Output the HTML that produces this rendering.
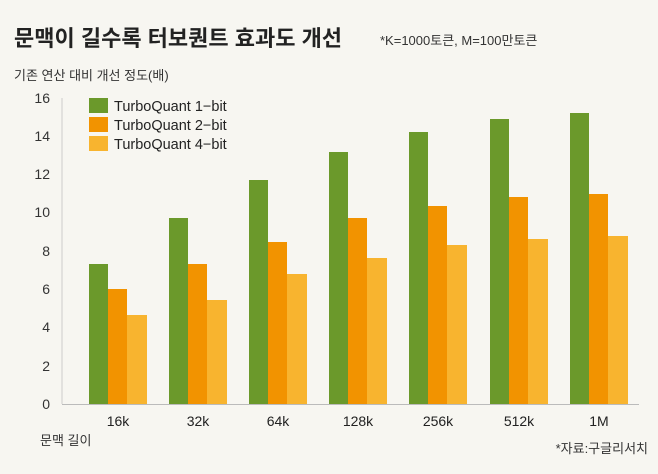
<!DOCTYPE html>
<html><head><meta charset="utf-8"><style>
body{margin:0;background:#f7f6f1;}
svg{display:block;font-family:"Liberation Sans","Noto Sans CJK KR",sans-serif;}
</style></head><body>
<svg width="658" height="474" viewBox="0 0 658 474">
<rect width="658" height="474" fill="#f7f6f1"/>
<text x="14" y="46" font-size="22" font-weight="bold" fill="#222">문맥이 길수록 터보퀀트 효과도 개선</text>
<text x="380" y="45" font-size="13" fill="#333">*K=1000토큰, M=100만토큰</text>
<text x="14" y="80" font-size="13" fill="#333">기존 연산 대비 개선 정도(배)</text>
<g font-size="14" fill="#333" text-anchor="end">
<text x="50" y="409">0</text><text x="50" y="371">2</text><text x="50" y="332">4</text><text x="50" y="294">6</text>
<text x="50" y="256">8</text><text x="50" y="217">10</text><text x="50" y="179">12</text><text x="50" y="141">14</text><text x="50" y="103">16</text>
</g>
<line x1="62" y1="98" x2="62" y2="404" stroke="#ccc"/>
<line x1="62" y1="404.5" x2="639" y2="404.5" stroke="#bbb"/>
<g>
<rect x="89" y="264" width="19" height="140" fill="#6b992b"/><rect x="108" y="289" width="19" height="115" fill="#f29300"/><rect x="127" y="315" width="20" height="89" fill="#f8b42f"/>
<rect x="169" y="218" width="19" height="186" fill="#6b992b"/><rect x="188" y="264" width="19" height="140" fill="#f29300"/><rect x="207" y="300" width="20" height="104" fill="#f8b42f"/>
<rect x="249" y="180" width="19" height="224" fill="#6b992b"/><rect x="268" y="242" width="19" height="162" fill="#f29300"/><rect x="287" y="274" width="20" height="130" fill="#f8b42f"/>
<rect x="329" y="152" width="19" height="252" fill="#6b992b"/><rect x="348" y="218" width="19" height="186" fill="#f29300"/><rect x="367" y="258" width="20" height="146" fill="#f8b42f"/>
<rect x="409" y="132" width="19" height="272" fill="#6b992b"/><rect x="428" y="206" width="19" height="198" fill="#f29300"/><rect x="447" y="245" width="20" height="159" fill="#f8b42f"/>
<rect x="490" y="119" width="19" height="285" fill="#6b992b"/><rect x="509" y="197" width="19" height="207" fill="#f29300"/><rect x="528" y="239" width="20" height="165" fill="#f8b42f"/>
<rect x="570" y="113" width="19" height="291" fill="#6b992b"/><rect x="589" y="194" width="19" height="210" fill="#f29300"/><rect x="608" y="236" width="20" height="168" fill="#f8b42f"/>
</g>
<g font-size="14" fill="#222" text-anchor="middle">
<text x="118" y="426">16k</text><text x="198" y="426">32k</text><text x="278" y="426">64k</text><text x="358" y="426">128k</text>
<text x="438" y="426">256k</text><text x="519" y="426">512k</text><text x="599" y="426">1M</text>
</g>
<rect x="89" y="98" width="19" height="15" fill="#6b992b"/>
<rect x="89" y="117" width="19" height="15" fill="#f29300"/>
<rect x="89" y="136" width="19" height="15" fill="#f8b42f"/>
<g font-size="14.5" fill="#222">
<text x="114" y="111">TurboQuant 1−bit</text>
<text x="114" y="130">TurboQuant 2−bit</text>
<text x="114" y="149">TurboQuant 4−bit</text>
</g>
<text x="40" y="445" font-size="13" fill="#333">문맥 길이</text>
<text x="648" y="453" font-size="13" fill="#333" text-anchor="end">*자료:구글리서치</text>
</svg>
</body></html>
